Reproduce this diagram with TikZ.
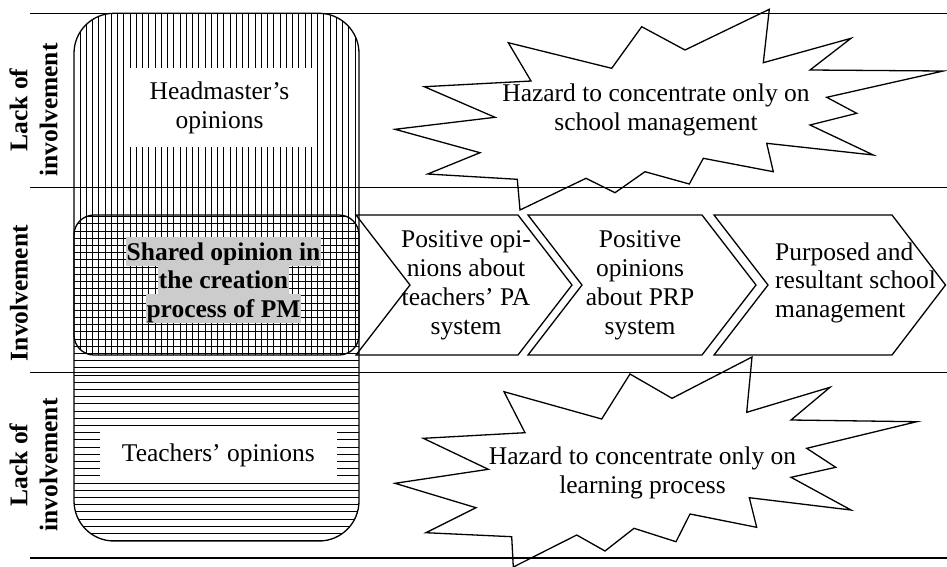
\documentclass[tikz,border=0pt]{standalone}
\usepackage{fontspec}
\setmainfont{Liberation Serif}
\begin{document}
\begin{tikzpicture}[x=1pt,y=-1pt,
  band/.style={line width=1.4pt},
  outline/.style={line width=1.3pt, line join=miter},
  hatch/.style={line width=1pt},
  body/.style={font=\fontsize{25.5}{29}\selectfont, inner sep=0pt, align=center},
  side/.style={font=\fontsize{25.5}{30}\selectfont\bfseries, inner sep=0pt, align=center, rotate=90},
  whitebox/.style={body, fill=white},
  shade/.style={font=\fontsize{25.5}{29}\selectfont\bfseries, fill=black!20, inner xsep=1pt, inner ysep=0pt,
                text height=23.5pt, text depth=5.5pt, anchor=base}
]
\useasboundingbox (0,0) rectangle (947,566);

% band separators
\foreach \yy in {13.3,187.5,372.3,558} \draw[band] (30,\yy) -- (947,\yy);

% opinions column: vertical hatching above, horizontal hatching below
\begin{scope}
  \clip[rounded corners=40pt] (74,13.3) rectangle (359,541);
  \foreach \xx in {80,86.25,...,357} \draw[hatch] (\xx,13) -- (\xx,285);
  \foreach \yy in {288.6,295.8,...,542} \draw[hatch] (74,\yy) -- (359,\yy);
\end{scope}

% shared area: cross hatching
\fill[white, rounded corners=20pt] (74,215) rectangle (359,355);
\begin{scope}
  \clip[rounded corners=20pt] (74,215) rectangle (359,355);
  \foreach \xx in {80,86.25,...,357} \draw[hatch] (\xx,214) -- (\xx,356);
  \foreach \yy in {216.6,223.8,...,356} \draw[hatch] (74,\yy) -- (359,\yy);
\end{scope}
\draw[outline, rounded corners=20pt] (74,215) rectangle (359,355);
\draw[outline, rounded corners=40pt] (74,13.3) rectangle (359,541);

% labels inside the column
\node[whitebox, minimum width=185pt, minimum height=79pt] (head) at (219.5,107.5) {Headmaster’s\\opinions};
\node[whitebox, minimum width=236.7pt, minimum height=47.6pt] (teach) at (218.4,455.5) {Teachers’ opinions};
\node[shade] (sh1) at (223.5,260) {Shared opinion in};
\node[shade] (sh2) at (223.5,288.5) {the creation};
\node[shade] (sh3) at (223.5,317) {process of PM};

% side captions
\node[side] (lack1) at (33.5,110) {Lack of\\involvement};
\node[side] (inv) at (19,293) {Involvement};
\node[side] (lack2) at (33.5,465) {Lack of\\involvement};

% process chevrons
\draw[outline] (356,215) -- (518,215) -- (572,285) -- (518,355) -- (356,355) -- (410,285) -- cycle;
\draw[outline] (528,215) -- (702,215) -- (756,285) -- (702,355) -- (528,355) -- (582,285) -- cycle;
\draw[outline] (714,215) -- (892,215) -- (945.5,285) -- (892,355) -- (714,355) -- (768,285) -- cycle;
\node[body] (c1) at (466,285.5) {Positive opi-\\nions about\\teachers’ PA\\system};
\node[body] (c2) at (640,285.5) {Positive\\opinions\\about PRP\\system};
\node[body, align=left, anchor=west, font=\fontsize{25.5}{28.6}\selectfont] (c3) at (775,282.5) {Purposed and\\resultant school\\management};

% hazard bursts
\draw[outline] (641.7,26.7) -- (685,50) -- (769.3,9.3) -- (763.3,62.7) -- (851,38.3) -- (810,70)
  -- (943.3,71) -- (826.7,97.3) -- (856.7,113.3) -- (810,125) -- (873.3,155) -- (766.7,143.3)
  -- (773.3,171.7) -- (703.3,158.3) -- (689.3,184) -- (645,171.7) -- (615,192.7) -- (586,178.3)
  -- (520,210) -- (517.3,179.3) -- (427.7,174) -- (480,152.7) -- (395,129.3) -- (495,117.3)
  -- (424.3,86.7) -- (531,81) -- (508.3,42.7) -- (611.7,68.3) -- cycle;
\node[body] (haz1) at (656,109.5) {Hazard to concentrate only on\\school management};

\draw[outline] (630,374) -- (672,398.3) -- (752,357) -- (746.7,412.3) -- (830,387.3) -- (791,420)
  -- (916.7,421.7) -- (806.7,448.3) -- (835.7,467.3) -- (791,477.3) -- (851,510) -- (749.3,497.7)
  -- (756.7,527.3) -- (690,514) -- (676,541.7) -- (634,528.3) -- (605,551) -- (576.7,535)
  -- (513.3,567) -- (511.7,536.7) -- (426,532.7) -- (476,507.7) -- (395,483.3) -- (488.3,469.3)
  -- (423.3,438.3) -- (525,432.7) -- (504,391.7) -- (601.7,419) -- cycle;
\node[body] (haz2) at (642.5,472.4) {Hazard to concentrate only on\\learning process};
\end{tikzpicture}
\end{document}
